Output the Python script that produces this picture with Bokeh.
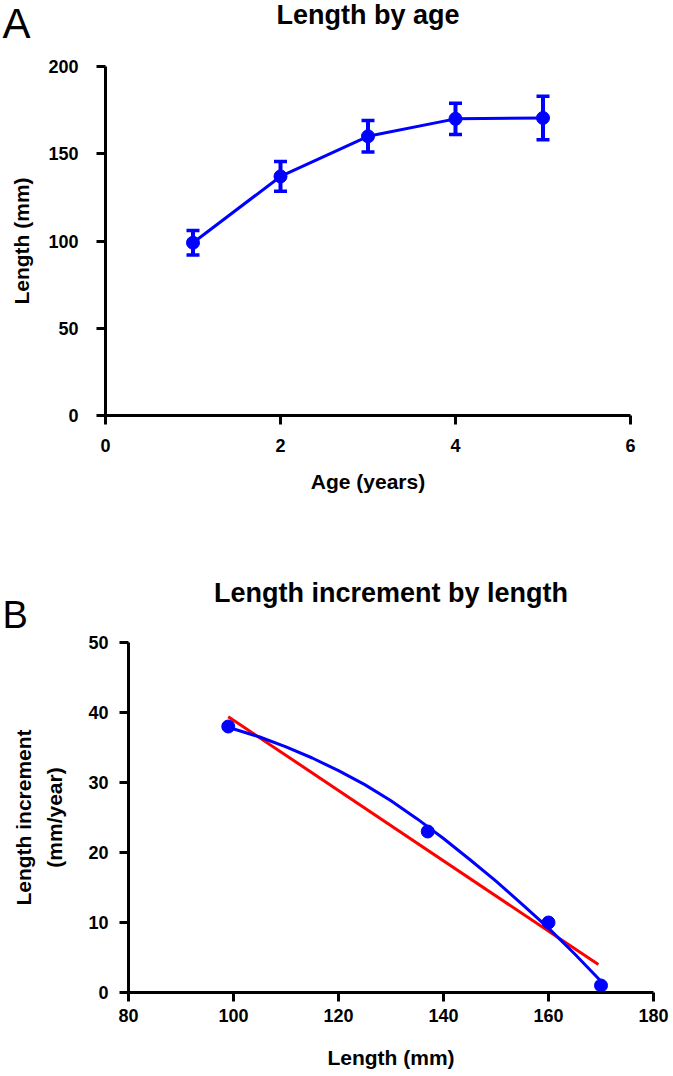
from bokeh.plotting import figure
from bokeh.models import Range1d, FixedTicker
from bokeh.layouts import column, row
from bokeh.core.properties import value
from bokeh.embed import file_html
from bokeh.resources import INLINE

# ---- Panel A data: length by age ----
ages = [1, 2, 3, 4, 5]
mean_length = [99, 137, 160, 170, 170.5]
sd_length = [7, 8.5, 9, 9, 12.5]

# ---- Panel B data: length increment by length ----
lengths = [99, 137, 160, 170]
increments = [38, 23, 10, 1]

# straight (red) fit, end points
fit_x = [99, 169.5]
fit_y = [39.4, 4.0]

# curved (blue) fit
curve_x = [99, 105, 110, 115, 120, 125, 130, 135, 140, 145, 150, 155, 160, 165, 170]
curve_y = [37.9, 36.5, 35.1, 33.5, 31.7, 29.7, 27.4, 24.8, 22.0, 19.0, 15.9, 12.6, 9.2, 5.5, 1.6]

# ticks
x_ticks_a = [0, 2, 4, 6]
y_ticks_a = [0, 50, 100, 150, 200]
x_ticks_b = [80, 100, 120, 140, 160, 180]
y_ticks_b = [0, 10, 20, 30, 40, 50]

# texts
panel_letters = ["A", "B"]
titles = ["Length by age", "Length increment by length"]

FONT = "Liberation Sans"
BLUE = "#0000ff"
RED = "#ff0000"
W = 673


def header(height, letter, letter_px, letter_base, title, title_x, title_base, title_px=27):
    h = figure(width=W, height=height, output_backend="svg", toolbar_location=None,
               x_range=Range1d(0, W), y_range=Range1d(height, 0),
               x_axis_location=None, y_axis_location=None,
               min_border_left=0, min_border_right=0, min_border_top=0, min_border_bottom=0)
    h.xgrid.visible = False
    h.ygrid.visible = False
    h.outline_line_color = None
    h.title.visible = False
    # the rendered baseline sits about 0.36 em below the given y
    h.text(x=[2], y=[letter_base - 0.36 * letter_px], text=[letter], text_font=value(FONT),
           text_font_size=f"{letter_px}px", text_align="left", text_baseline="alphabetic",
           text_color="black")
    h.text(x=[title_x], y=[title_base - 0.36 * title_px], text=[title], text_font=value(FONT),
           text_font_style="bold", text_font_size=f"{title_px}px", text_align="center",
           text_baseline="alphabetic", text_color="black")
    return h


def style_axes(p, xstand, ystand, xlab_stand, ylab_stand):
    for ax in (p.xaxis[0], p.yaxis[0]):
        ax.axis_line_width = 3
        ax.axis_line_color = "black"
        ax.major_tick_line_width = 3
        ax.major_tick_line_color = "black"
        ax.major_tick_out = 9
        ax.major_tick_in = 0
        ax.minor_tick_out = 0
        ax.minor_tick_in = 0
        ax.major_label_text_font = FONT
        ax.major_label_text_font_style = "bold"
        ax.major_label_text_font_size = "18px"
        ax.major_label_text_color = "black"
        ax.axis_label_text_font = FONT
        ax.axis_label_text_font_style = "bold"
        ax.axis_label_text_font_size = "21px"
        ax.axis_label_text_color = "black"
        ax.axis_label_text_line_height = 1.35
    p.xaxis[0].major_label_standoff = xstand
    p.yaxis[0].major_label_standoff = ystand
    p.xaxis[0].axis_label_standoff = xlab_stand
    p.yaxis[0].axis_label_standoff = ylab_stand
    p.xgrid.visible = False
    p.ygrid.visible = False
    p.outline_line_color = None
    p.title.visible = False


# ---------------- Header A ----------------
hA = header(50, panel_letters[0], 42, 38, titles[0], 367.5, 24)

# ---------------- Panel A ----------------
pA = figure(width=W, height=510, output_backend="svg", toolbar_location=None,
            x_range=Range1d(0, 6), y_range=Range1d(0, 200),
            min_border_left=105, min_border_right=43, min_border_top=16, min_border_bottom=145)
pA.xaxis[0].ticker = FixedTicker(ticks=x_ticks_a)
pA.yaxis[0].ticker = FixedTicker(ticks=y_ticks_a)
pA.xaxis[0].axis_label = "Age (years)"
pA.yaxis[0].axis_label = "Length (mm)"
style_axes(pA, 14, 18, 15, 12)

upper = [m + s for m, s in zip(mean_length, sd_length)]
lower = [m - s for m, s in zip(mean_length, sd_length)]
pA.segment(x0=ages, y0=lower, x1=ages, y1=upper, line_color=BLUE, line_width=4)
pA.scatter(ages, upper, marker="dash", size=13, line_color=BLUE, line_width=3.5)
pA.scatter(ages, lower, marker="dash", size=13, line_color=BLUE, line_width=3.5)
pA.line(ages, mean_length, line_color=BLUE, line_width=3)
pA.scatter(ages, mean_length, marker="circle", size=13, fill_color=BLUE, line_color=BLUE)

# ---------------- Header B (overlaps the top of panel B by 10px) ----------------
hB = header(80, panel_letters[1], 38, 68, titles[1], 390.5, 42)
hB.margin = (0, 0, -10, 0)

# ---------------- Panel B ----------------
pB = figure(width=W, height=446, output_backend="svg", toolbar_location=None,
            x_range=Range1d(80, 180), y_range=Range1d(0, 50),
            min_border_left=128, min_border_right=20, min_border_top=12, min_border_bottom=84)
pB.border_fill_color = None
pB.xaxis[0].ticker = FixedTicker(ticks=x_ticks_b)
pB.yaxis[0].ticker = FixedTicker(ticks=y_ticks_b)
pB.xaxis[0].axis_label = "Length (mm)"
pB.yaxis[0].axis_label = "Length increment\n(mm/year)"
style_axes(pB, 7, 11, 21, 19)

pB.line(fit_x, fit_y, line_color=RED, line_width=3)
pB.line(curve_x, curve_y, line_color=BLUE, line_width=3)
pB.scatter(lengths, increments, marker="circle", size=13, fill_color=BLUE, line_color=BLUE)

layout = column(row(hA), row(pA), row(hB), row(pB))
open("out.html", "w").write(file_html(layout, INLINE))
